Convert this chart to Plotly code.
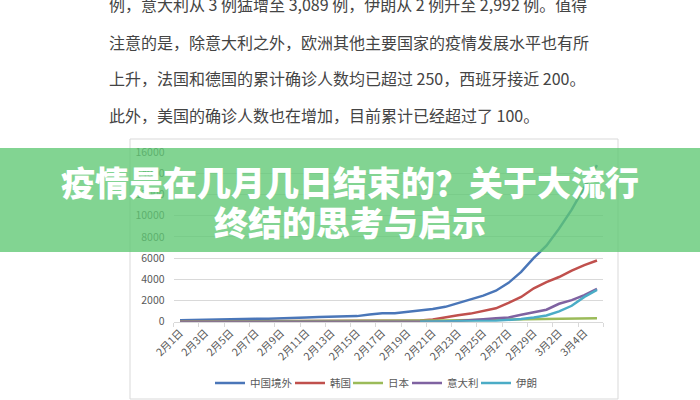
import plotly.graph_objects as go

# ---------------- data ----------------
dates = [f"2月{d}日" for d in range(1, 30)] + [f"3月{d}日" for d in range(1, 6)]
tick_labels = dates[::2]

series_names = ["中国境外", "韩国", "日本", "意大利", "伊朗"]
outside_china = [132, 146, 153, 159, 191, 216, 270, 288, 307, 319, 395, 441, 447, 505, 526, 683, 794,
                 804, 924, 1073, 1200, 1402, 1769, 2069, 2459, 2918, 3664, 4691, 6009, 7169, 8774,
                 10566, 12668, 14768]
korea = [12, 15, 15, 16, 19, 23, 24, 24, 25, 27, 28, 28, 28, 28, 28, 29, 30, 31, 51, 104, 204, 433,
         602, 763, 977, 1261, 1766, 2337, 3150, 3736, 4212, 4812, 5328, 5766]
japan = [17, 20, 20, 20, 22, 25, 25, 25, 26, 26, 26, 28, 29, 33, 41, 53, 59, 65, 73, 85, 93, 105,
         132, 144, 157, 164, 186, 210, 230, 239, 254, 268, 284, 317]
italy = [3, 3, 3, 3, 3, 3, 3, 3, 3, 3, 3, 3, 3, 3, 3, 3, 3, 3, 3, 3, 3, 9, 76, 124, 229, 322, 400,
         650, 888, 1128, 1689, 2036, 2502, 3089]
iran = [None] * 19 + [2, 5, 18, 28, 43, 61, 95, 141, 245, 388, 593, 978, 1501, 2336, 2992]

y_ticks = [0, 2000, 4000, 6000, 8000, 10000, 12000, 14000, 16000]

body_lines = [
    "例，意大利从 3 例猛增至 3,089 例，伊朗从 2 例升至 2,992 例。值得",
    "注意的是，除意大利之外，欧洲其他主要国家的疫情发展水平也有所",
    "上升，法国和德国的累计确诊人数均已超过 250，西班牙接近 200。",
    "此外，美国的确诊人数也在增加，目前累计已经超过了 100。",
]
title_lines = ["疫情是在几月几日结束的？关于大流行", "终结的思考与启示"]

colors = ["#4a76b8", "#c0504d", "#9bbb59", "#7f62a1", "#4bacc6"]

# ---------------- figure ----------------
W, H = 700, 400
FONT = "Noto Sans CJK SC, Noto Sans, sans-serif"

def px(x):
    return x / W

def py(y):
    return 1 - y / H

legend_ids = ["legend", "legend2", "legend3", "legend4", "legend5"]
legend_left = [210, 290, 348, 407, 476]   # left edge of each legend entry (pixels)

fig = go.Figure()
for name, vals, col, lid in zip(series_names, [outside_china, korea, japan, italy, iran], colors, legend_ids):
    fig.add_trace(go.Scatter(
        x=list(range(len(dates))), y=vals, name=name, mode="lines",
        line=dict(color=col, width=2.5), connectgaps=False, legend=lid,
    ))

legend_common = dict(
    orientation="h", yanchor="middle", xanchor="left", y=py(383),
    bgcolor="rgba(0,0,0,0)", font=dict(size=10.5, color="#595959"),
    itemwidth=30,
)

fig.update_layout(
    width=W, height=H, autosize=False,
    margin=dict(l=0, r=0, t=0, b=0),
    paper_bgcolor="white", plot_bgcolor="white",
    font=dict(family=FONT, color="#595959", size=11),
    showlegend=True,
    xaxis=dict(
        domain=[px(173.7), px(603.3)],
        range=[-0.5, len(dates) - 0.5],
        tickmode="array", tickvals=list(range(0, len(dates), 2)), ticktext=tick_labels,
        tickangle=-45, tickfont=dict(size=10.5, color="#595959"),
        ticks="", showgrid=False, zeroline=False,
        showline=True, linecolor="#d9d9d9", linewidth=1,
        minor=dict(tickmode="linear", tick0=-0.5, dtick=2, ticks="outside", ticklen=4,
                   tickcolor="#d9d9d9", showgrid=False),
        automargin=False, fixedrange=True,
    ),
    yaxis=dict(
        domain=[py(321.7), py(152)],
        range=[0, 16000],
        tickmode="array", tickvals=y_ticks, ticktext=[str(v) for v in y_ticks],
        tickfont=dict(size=10.5, color="#595959"),
        ticks="outside", ticklen=6, tickcolor="rgba(0,0,0,0)",
        showgrid=True, gridcolor="#d9d9d9", gridwidth=1,
        zeroline=False, showline=False,
        automargin=False, fixedrange=True,
    ),
)
for lid, lx in zip(legend_ids, legend_left):
    fig.update_layout({lid: dict(legend_common, x=px(lx))})

# chart frame
fig.add_shape(type="rect", xref="paper", yref="paper",
              x0=px(130), x1=px(618), y0=py(399), y1=py(139),
              line=dict(color="#d9d9d9", width=1), fillcolor="rgba(0,0,0,0)", layer="below")

# green banner
fig.add_shape(type="rect", xref="paper", yref="paper",
              x0=0, x1=1, y0=py(252), y1=py(148),
              line=dict(width=0), fillcolor="rgba(95,200,115,0.78)", layer="above")

# body text above chart
body_y = [4, 41.7, 78.3, 115]
for txt, yy in zip(body_lines, body_y):
    fig.add_annotation(text=txt, xref="paper", yref="paper", x=px(107), y=py(yy),
                       xanchor="left", yanchor="middle", showarrow=False,
                       font=dict(family=FONT, size=16, color="#444444"))

# banner title
title_y = [181, 221]
for txt, yy in zip(title_lines, title_y):
    fig.add_annotation(text=txt, xref="paper", yref="paper", x=0.5, y=py(yy),
                       xanchor="center", yanchor="middle", showarrow=False,
                       font=dict(family=FONT, size=34, color="white", weight=900))

fig.write_html(
    "out.html",
    config={"displayModeBar": False, "staticPlot": True},
    post_script="document.body.style.margin='0';document.body.style.overflow='hidden';",
)
